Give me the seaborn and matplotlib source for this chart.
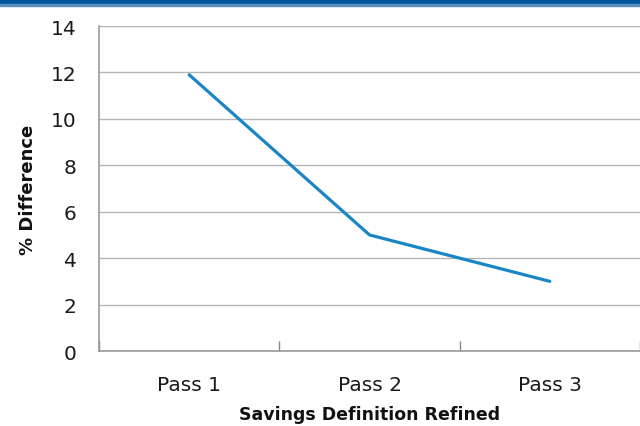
import matplotlib
matplotlib.use("Agg")
import matplotlib.pyplot as plt
import seaborn as sns
import pandas as pd

passes = ["Pass 1", "Pass 2", "Pass 3"]
pct_difference = [11.9, 5.0, 3.0]
y_ticks = [0, 2, 4, 6, 8, 10, 12, 14]

sns.set_theme(style="white")
plt.rcParams["font.family"] = ["DejaVu Sans"]

df = pd.DataFrame({"pass": passes, "diff": pct_difference})

fig = plt.figure(figsize=(6.4, 4.27), dpi=100)
ax = fig.add_axes([99 / 640, 1 - 352 / 427, (640 - 99) / 640, (352 - 27) / 427])

# header band
fig.patches.append(plt.Rectangle((0, 1 - 5 / 427), 1, 5 / 427, transform=fig.transFigure,
                                 color="#00569a", zorder=0))
fig.patches.append(plt.Rectangle((0, 1 - 6.5 / 427), 1, 1.5 / 427, transform=fig.transFigure,
                                 color="#5c8fc0", zorder=0))

x_pos = list(range(len(passes)))
sns.lineplot(x=x_pos, y=df["diff"], ax=ax, color="#1a86c6", linewidth=2.3)

ax.set_ylim(0, 14)
ax.set_xlim(-0.5, 2.472)
ax.set_yticks(y_ticks)
ax.set_yticklabels([str(v) for v in y_ticks], fontsize=14.5, color="#1a1a1a")
ax.set_xticks(x_pos)
ax.set_xticklabels(passes, fontsize=14.5, color="#1a1a1a")
ax.tick_params(axis="x", length=0, pad=17)
ax.tick_params(axis="y", length=0, pad=16)
ax.set_xticks([-0.5, 0.5, 1.5, 2.5], minor=True)
ax.tick_params(axis="x", which="minor", length=7, width=1, color="#888888", direction="in", bottom=True)

ax.yaxis.grid(True, color="#b5b5b5", linewidth=1)
ax.set_axisbelow(True)
for side in ["top", "right"]:
    ax.spines[side].set_visible(False)
for side in ["left", "bottom"]:
    ax.spines[side].set_color("#999999")
    ax.spines[side].set_linewidth(1.2)

ax.set_ylabel("% Difference", fontsize=13, fontweight="bold", color="#111111", labelpad=10)
ax.set_xlabel("Savings Definition Refined", fontsize=12.5, fontweight="bold", color="#111111", labelpad=8)

fig.savefig("out.png", dpi=100)
